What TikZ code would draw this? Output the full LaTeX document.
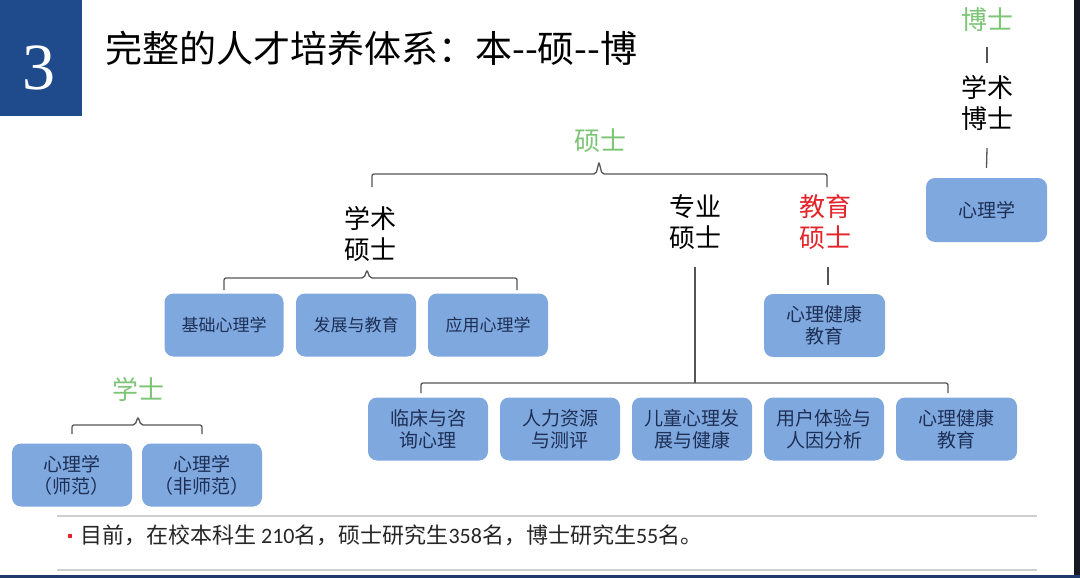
\documentclass[tikz,border=0pt]{standalone}
\usepackage{fontspec}
\setmainfont{Noto Sans CJK SC}
\newfontfamily\numfont{Liberation Serif}
\newfontfamily\latinfont{Carlito}
\usetikzlibrary{calc}
\definecolor{titleblue}{HTML}{1F4A8C}
\definecolor{boxblue}{HTML}{7FA8DF}
\definecolor{boxtext}{HTML}{1E2F55}
\definecolor{lvse}{HTML}{7CC576}
\definecolor{hongse}{HTML}{E3242B}
\definecolor{linegray}{HTML}{555555}
\definecolor{sepgray}{HTML}{CFCFCF}
\definecolor{edgedark}{HTML}{151A24}
\definecolor{barblue}{HTML}{1F3A6B}
\tikzset{
  box/.style={rounded corners=9pt, fill=boxblue, text=boxtext, minimum width=120pt,
    minimum height=63pt, inner sep=0pt, align=center, font=\fontsize{19}{22}\selectfont},
  boxs/.style={box, font=\fontsize{17}{20}\selectfont},
  lab/.style={inner sep=0pt, align=center, font=\fontsize{26}{31}\selectfont},
  bracket/.style={draw=linegray, line width=1.3pt, rounded corners=2pt},
  tick/.style={draw=linegray, line width=1.3pt},
}
\begin{document}
\begin{tikzpicture}[x=1pt,y=-1pt]
\useasboundingbox (0,0) rectangle (1080,578);
\fill[white] (0,0) rectangle (1080,578);
% frame pieces
\fill[titleblue] (0,0) rectangle (82,116);
\fill[edgedark] (1074,0) rectangle (1080,578);
\fill[barblue] (0,575) rectangle (1080,578);
\node[text=white, inner sep=0pt, font=\fontsize{66}{66}\numfont] (num) at (39,68) {3};
\node[anchor=west, inner sep=0pt, font=\fontsize{37}{37}\selectfont] (title) at (105,48) {完整的人才培养体系：本-{}-硕-{}-博};

% doctor
\node[lab, text=lvse] (bo) at (987,20) {博士};
\node[lab] (xsbs) at (987,103) {学术\\博士};
\node[box, minimum width=121pt, minimum height=64pt] (bxl) at (986.5,210) {心理学};
\draw[tick] ($(bo.center)+(0,27)$) -- ($(xsbs.center)+(0,-40)$);
\draw[tick] ($(xsbs.center)+(0,45)$) -- ($(bxl.north)+(0,-10)$);

% master
\node[lab, text=lvse] (shuo) at (600,141) {硕士};
\node[lab] (xsss) at (370,234) {学术\\硕士};
\node[lab] (zyss) at (695,222.5) {专业\\硕士};
\node[lab, text=hongse] (jyss) at (825,222) {教育\\硕士};
\coordinate (sL) at (372,187);
\coordinate (sT) at (599,162);
\coordinate (sR) at (827,187);
\draw[bracket] (sL) |- (596,174) -- (sT) -- (602,174) -| (sR);

% academic master boxes
\node[boxs, minimum width=119pt] (jc) at (224,325) {基础心理学};
\node[boxs] (fz) at (356,325) {发展与教育};
\node[boxs, minimum width=120pt] (yy) at (488,325) {应用心理学};
\coordinate (aL) at (224,290);
\coordinate (aT) at (367,270);
\coordinate (aR) at (517,290);
\draw[bracket] (aL) |- (364,278) -- (aT) -- (370,278) -| (aR);

% education master
\node[box, minimum width=121pt] (jyb) at (824.5,325.5) {心理健康\\教育};
\draw[tick] ($(jyss.center)+(3,45)$) -- ($(jyb.north)+(3.5,-9)$);

% professional master
\node[box] (lc) at (428,429) {临床与咨\\询心理};
\node[box] (rl) at (560,429) {人力资源\\与测评};
\node[box] (et) at (692,429) {儿童心理发\\展与健康};
\node[box] (yh) at (824,429) {用户体验与\\人因分析};
\node[box, minimum width=121pt] (xl) at (956.5,429) {心理健康\\教育};
\coordinate (pJ) at (695,383);
\draw[tick] ($(zyss.center)+(0,44.5)$) -- (pJ);
\coordinate (pL) at (421,393);
\coordinate (pR) at (948,393);
\draw[bracket] (pL) |- (pJ) -| (pR);

% bachelor
\node[lab, text=lvse] (xue) at (138,389) {学士};
\node[box] (sf) at (72,475) {心理学\\（师范）};
\node[box] (fsf) at (202,475) {心理学\\（非师范）};
\coordinate (bL) at (72,434);
\coordinate (bT) at (138,417);
\coordinate (bR) at (202,434);
\draw[bracket] (bL) |- (135,425) -- (bT) -- (141,425) -| (bR);

% footer
\draw[sepgray, line width=1.2pt] (57,516) -- (1037,516);
\draw[sepgray, line width=1.2pt] (57,570) -- (1037,570);
\node[fill=hongse, minimum size=4pt, inner sep=0pt] (bul) at (70,536) {};
\node[anchor=west, inner sep=0pt, text=black!85, font=\fontsize{22}{22}\selectfont] (stat) at (80,535)
  {目前，在校本科生 {\latinfont 210}名，硕士研究生{\latinfont 358}名，博士研究生{\latinfont 55}名。};
\end{tikzpicture}
\end{document}
